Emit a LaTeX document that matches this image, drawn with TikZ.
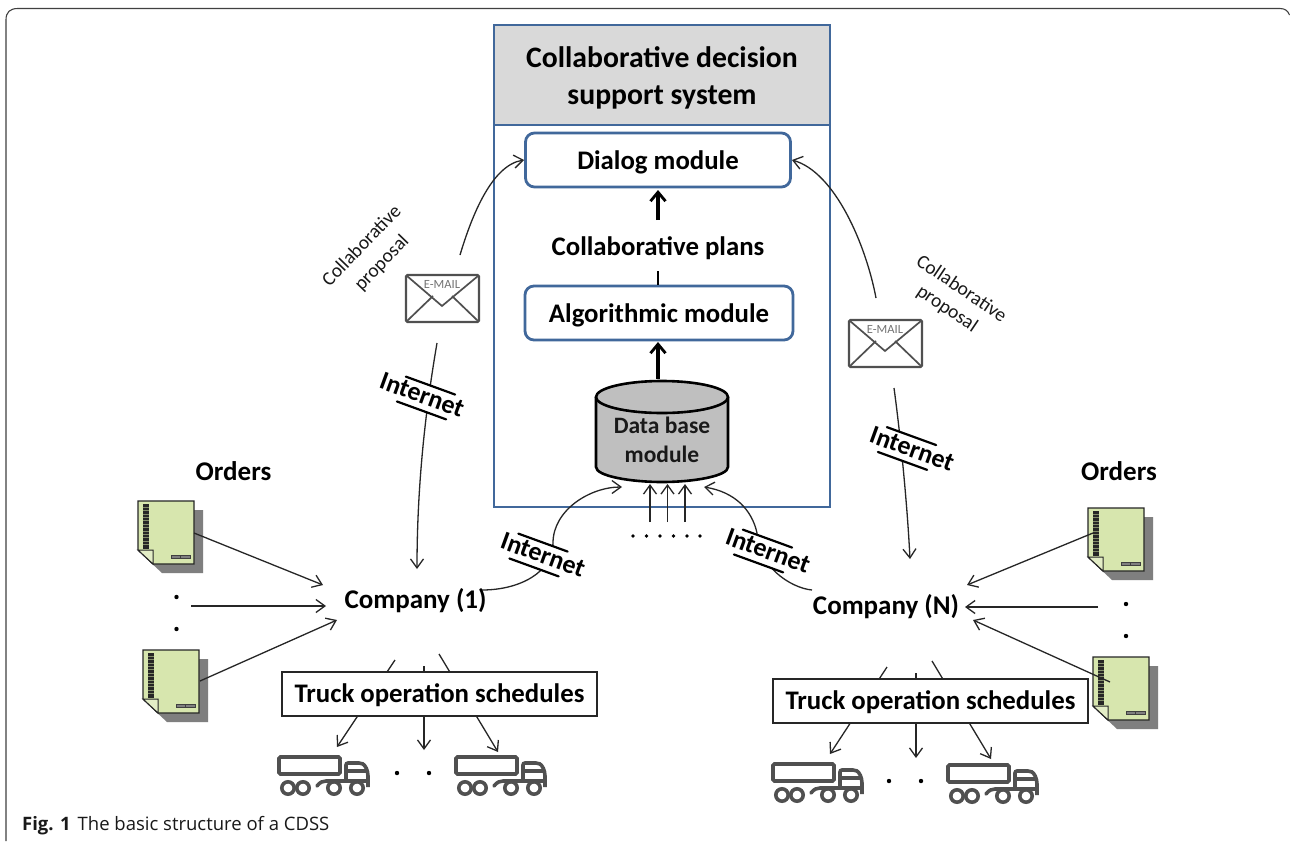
\documentclass[tikz,border=0pt]{standalone}
\usepackage{fontspec}
\setmainfont{Carlito}
\newfontfamily\capfont{Open Sans}
\usetikzlibrary{arrows.meta}
\definecolor{frameblue}{HTML}{41689B}
\definecolor{headgray}{HTML}{D9D9D9}
\definecolor{dbgray}{HTML}{BFBFBF}
\definecolor{docgreen}{HTML}{D7E6AE}
\definecolor{iconink}{HTML}{505050}
\definecolor{shadowgray}{HTML}{7F7F7F}
\newcommand{\fs}[1]{\fontsize{#1}{#1}\selectfont}
\newcommand{\netlabel}[5]{%
  \node[netbars] (#1b) at (#2,#3) {};
  \draw[barline] (#1b.north west) -- (#1b.north east);
  \draw[barline] (#1b.south west) -- (#1b.south east);
  \node[nettext] (#1) at (#4,#5) {Internet};
}
\tikzset{
  x=1pt,y=-1pt,
  thinarrow/.style={line width=1.3pt,draw=black!85,-{Straight Barb[length=9pt,width=13pt,line width=1.3pt]}},
  thickarrow/.style={line width=3.2pt,-{Straight Barb[length=9pt,width=15pt,line width=2.8pt]}},
  bluebox/.style={draw=frameblue,line width=2.8pt,fill=white,rounded corners=9pt,inner sep=0pt},
  titletext/.style={font=\bfseries\fs{29.7},align=center,inner sep=0pt},
  modtext/.style={font=\bfseries\fs{26.8},inner sep=0pt},
  headtext/.style={font=\bfseries\fs{27},inner sep=0pt},
  comptext/.style={font=\bfseries\fs{27},inner sep=0pt},
  schedtext/.style={font=\bfseries\fs{26.8},inner sep=0pt},
  dbtext/.style={font=\bfseries\fs{23.5},inner sep=0pt,text=black!90},
  proptext/.style={font=\fs{19.5},inner sep=0pt,text=black!90},
  netbars/.style={rotate=-20,fill=white,minimum width=52pt,minimum height=26pt,inner sep=0pt},
  nettext/.style={rotate=-20,font=\bfseries\fs{26},inner sep=0pt},
  barline/.style={line width=2.2pt,line cap=round},
  truckbox/.style={draw=black!85,line width=1.4pt,fill=white,inner sep=0pt},
  dotmark/.style={circle,fill=black,minimum size=4.4pt,inner sep=0pt},
  pics/email/.style={code={
    \draw[iconink,line width=2.4pt,rounded corners=1.5pt,fill=white] (0,0) rectangle (73,47);
    \draw[iconink,line width=1.7pt] (1,1) -- (36,31) -- (72,1);
    \draw[iconink,line width=1.7pt] (1,46) -- (27,21);
    \draw[iconink,line width=1.7pt] (72,46) -- (46,21);
    \node[font=\fs{12.5},text=black!55,inner sep=0pt] at (36,9.5) {E-MAIL};
  }},
  pics/orderdoc/.style={code={
    \fill[shadowgray] (9,9) -- (65,9) -- (65,72) -- (24,72) -- (9,58) -- cycle;
    \draw[black!85,line width=1.3pt,fill=docgreen] (0,0) -- (56,0) -- (56,63) -- (15,63) -- (0,49) -- cycle;
    \draw[black!85,line width=1pt,fill=docgreen!70!white] (0,49) -- (15,49) -- (15,63) -- cycle;
    \fill[black!85] (4.5,3) rectangle (11,48);
    \foreach \k in {0,...,11} {\draw[docgreen!60!black,line width=.3pt] (4.5,6+3.4*\k) -- (11,6+3.4*\k);}
    \draw[black!75,line width=.8pt,fill=shadowgray] (33,54) rectangle (52,57.5);
    \draw[black!75,line width=.8pt] (42.5,54) -- (42.5,57.5);
  }},
  pics/truck/.style={code={
    \begin{scope}[iconink,line width=3.6pt]
    \draw[rounded corners=1.5pt] (1,1) rectangle (62,18);
    \draw[rounded corners=2pt] (68,25) -- (68,7) -- (83,7) .. controls (87,9) and (90,14) .. (90,22) -- (90,31);
    \draw (68,15) -- (88,15);
    \draw[line cap=round] (39,30) .. controls (42,26) and (45,25) .. (48,25) -- (90,25);
    \draw (10,32) circle (6.2);
    \draw (25,32) circle (6.2);
    \draw (56,32) circle (6.2);
    \draw (79,32) circle (6.2);
    \end{scope}
  }}
}
\begin{document}
\begin{tikzpicture}
\useasboundingbox (0,0) rectangle (1290,841);
\fill[white] (0,0) rectangle (1290,841);
% outer frame
\draw[black!75,line width=1.1pt] (6,841) -- (6,20) .. controls (6,12) and (10,8.5) .. (18,8.5) -- (1280,8.5) .. controls (1285,8.5) and (1288,11) .. (1289.5,15);

% main box
\draw[frameblue,line width=2.8pt,fill=headgray] (494,25) rectangle (830,125);
\draw[frameblue,line width=2.8pt,fill=white] (494,125) rectangle (830,507);
\node[titletext] (title) at (662,78) {Collaborative decision\\[7pt]support system};

\node[bluebox,minimum width=265pt,minimum height=54pt] (dialog) at (658,160) {};
\node[modtext,yshift=-2.5pt] (dialogtext) at (dialog) {Dialog module};
\node[bluebox,minimum width=268pt,minimum height=54pt] (algo) at (659,313) {};
\node[modtext,yshift=-2pt] (algotext) at (algo) {Algorithmic module};
\node[modtext] (plans) at (658,248) {Collaborative plans};

\coordinate (plansbot) at (658,271);
\draw[line width=2.2pt] (plansbot) -- (algo.north -| plansbot);
\coordinate (planstop) at (658,220);
\draw[thickarrow] (planstop) -- (658,190);
\coordinate (dbtop) at (658,379);
\draw[thickarrow] (dbtop) -- (658,342);

% data base cylinder
\draw[line width=2.6pt,fill=dbgray] (596,397) -- (596,467) .. controls (596,476) and (630,482) .. (662,482) .. controls (694,482) and (728,476) .. (728,467) -- (728,397);
\draw[line width=2.6pt,fill=dbgray] (662,397) ellipse [x radius=66,y radius=16];
\node[dbtext,align=center] (db) at (662,440) {Data base\\[6pt]module};

\coordinate (db1) at (650,484); \coordinate (db2) at (667.5,484); \coordinate (db3) at (685,484);
\foreach \i/\xx in {1/650,2/667.5,3/685} {\coordinate (up\i) at (\xx,522); \draw[thinarrow] (up\i) -- (db\i);}
\foreach \i/\xx in {1/633,2/646.5,3/660,4/673.5,5/687,6/700} {\node[dotmark,minimum size=3.8pt] (ddot\i) at (\xx,536) {};}

% email icons
\pic at (406,275) {email};
\pic at (849,320) {email};

% connectors to dialog and company
\coordinate (e1up) at (460,255);
\coordinate (e2up) at (876,298);
\coordinate (e1dn) at (437,343);
\coordinate (e2dn) at (894,388);
\coordinate (c1top) at (417,569);
\coordinate (cNtop) at (910,559);
\coordinate (c1r) at (482,590);
\coordinate (cNl) at (812,590);
\coordinate (dbL) at (622,487);
\coordinate (dbR) at (704,487);
\draw[thinarrow] (e1up) .. controls (472,215) and (492,165) .. (dialog.west);
\draw[thinarrow] (e2up) .. controls (866,245) and (835,172) .. (dialog.east);
\draw[thinarrow] (e1dn) .. controls (429,390) and (417,470) .. (c1top);
\draw[thinarrow] (e2dn) .. controls (900,432) and (907,500) .. (cNtop);
\draw[thinarrow] (c1r) .. controls (520,590) and (553,572) .. (553,543) .. controls (553,510) and (590,487) .. (dbL);
\draw[thinarrow] (cNl) .. controls (790,588) and (757,565) .. (757,533) .. controls (752,510) and (735,492) .. (dbR);

% Internet labels
\netlabel{netA}{426}{398}{422}{395}
\netlabel{netB}{907}{448.5}{912}{449}
\netlabel{netC}{538.5}{555}{543}{555}
\netlabel{netD}{763}{551}{768}{551}

% rotated proposal labels
\node[proptext,rotate=46] (propA1) at (361,245) {Collaborative};
\node[proptext,rotate=46] (propA2) at (382,263) {proposal};
\node[proptext,rotate=-34] (propB1) at (962,288) {Collaborative};
\node[proptext,rotate=-34] (propB2) at (947,309) {proposal};

% orders
\node[headtext] (ordA) at (233.5,471) {Orders};
\node[headtext] (ordB) at (1119,471) {Orders};
\pic at (138,501) {orderdoc};
\pic at (143,650) {orderdoc};
\pic at (1088,508) {orderdoc};
\pic at (1093,657) {orderdoc};
\node[dotmark] (ldot1) at (176.5,597) {};
\node[dotmark] (ldot2) at (176.5,629) {};
\node[dotmark] (rdot1) at (1126,604) {};
\node[dotmark] (rdot2) at (1126,636) {};

% companies
\node[comptext] (c1) at (415.5,601) {Company (1)};
\node[comptext] (cN) at (886,607) {Company (N)};

\coordinate (a1s) at (194,533); \coordinate (a1e) at (323,585);
\coordinate (a2s) at (191,606); \coordinate (a2e) at (326,606);
\coordinate (a3s) at (200,681); \coordinate (a3e) at (337,620);
\draw[thinarrow] (a1s) -- (a1e);
\draw[thinarrow] (a2s) -- (a2e);
\draw[thinarrow] (a3s) -- (a3e);
\coordinate (b1s) at (1093,533); \coordinate (b1e) at (967,585);
\coordinate (b2s) at (1098,607); \coordinate (b2e) at (965,607);
\coordinate (b3s) at (1110,682); \coordinate (b3e) at (973,620);
\draw[thinarrow] (b1s) -- (b1e);
\draw[thinarrow] (b2s) -- (b2e);
\draw[thinarrow] (b3s) -- (b3e);

% truck schedule arrows, the box sits on top of them
\coordinate (t1a) at (395,660); \coordinate (t1b) at (337,747);
\coordinate (t2a) at (424,666); \coordinate (t2b) at (424,750);
\coordinate (t3a) at (439,654); \coordinate (t3b) at (498,752);
\coordinate (u1a) at (887,667); \coordinate (u1b) at (830,754);
\coordinate (u2a) at (916,673); \coordinate (u2b) at (916,758);
\coordinate (u3a) at (932,661); \coordinate (u3b) at (991,759);
\foreach \p in {t1,t2,t3,u1,u2,u3} {\draw[thinarrow] (\p a) -- (\p b);}
\node[truckbox,minimum width=315pt,minimum height=44pt] (schedA) at (439.5,694) {};
\node[schedtext,yshift=-1.5pt] (schedAt) at (schedA) {Truck operation schedules};
\node[truckbox,minimum width=315pt,minimum height=44pt] (schedB) at (930.5,701) {};
\node[schedtext,yshift=-1.5pt] (schedBt) at (schedB) {Truck operation schedules};

% trucks
\pic at (278,756) {truck};
\pic at (455,756) {truck};
\pic at (772,763) {truck};
\pic at (947,764) {truck};
\node[dotmark] (tdot1) at (397,773) {};
\node[dotmark] (tdot2) at (429,773) {};
\node[dotmark] (tdot3) at (889,781) {};
\node[dotmark] (tdot4) at (921,781) {};

% caption
\node[anchor=base west,inner sep=0pt,font=\capfont\fs{18.5},text=black!90] (cap) at (22,830) {\textbf{Fig. 1}\hspace{7pt}The basic structure of a CDSS};
\end{tikzpicture}
\end{document}
